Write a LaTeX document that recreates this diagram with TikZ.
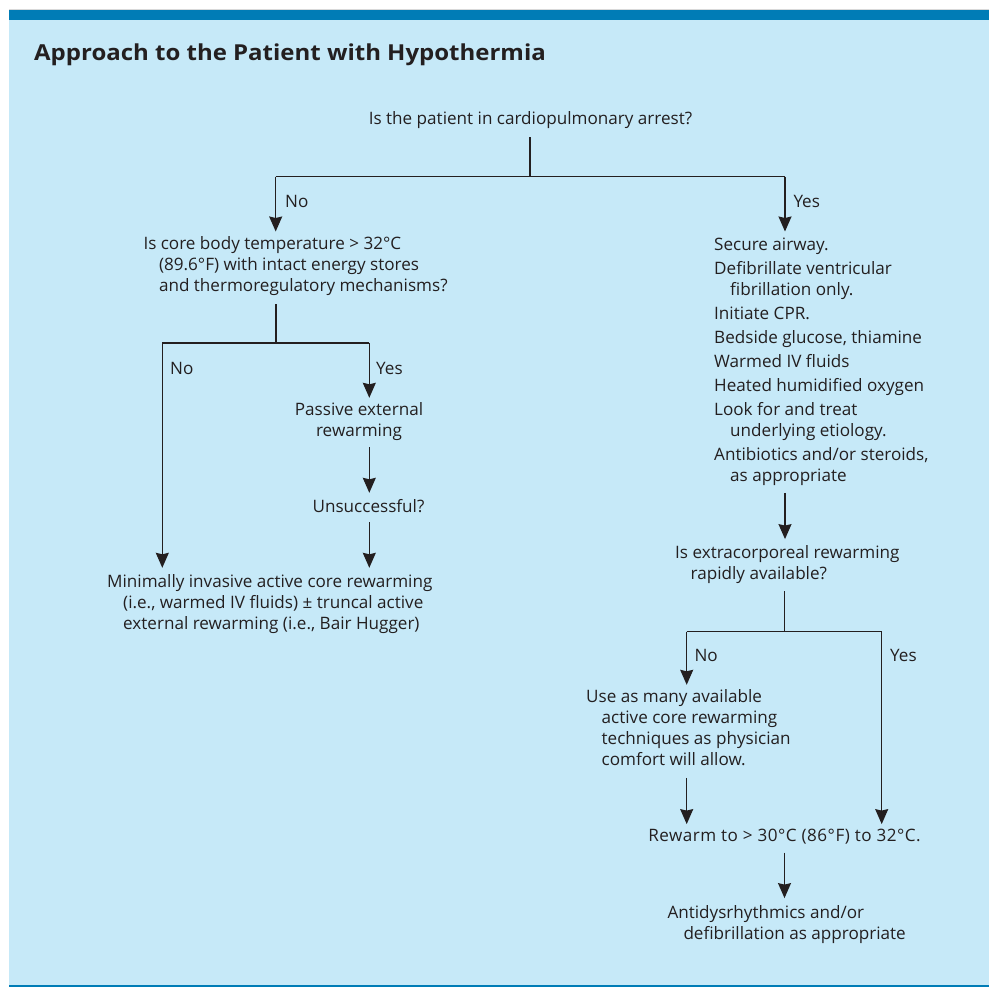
\documentclass[tikz,border=0pt]{standalone}
\usepackage{fontspec}
\setmainfont{Open Sans}
\newfontfamily\titlefam{Open Sans}[FakeStretch=1.09]
\usetikzlibrary{arrows.meta}
\definecolor{bgblue}{HTML}{C6E9F8}
\definecolor{band}{HTML}{007CB6}
\definecolor{ink}{HTML}{231F20}
\newcommand{\lblock}[1]{\begin{tabular}[t]{@{}l@{}}#1\end{tabular}}
\newcommand{\cblock}[1]{\begin{tabular}[t]{@{}c@{}}#1\end{tabular}}
\newcommand{\ind}{\hspace*{15.5pt}}
\begin{document}
\begin{tikzpicture}[x=1pt,y=-1pt,
  txt/.style={inner sep=0pt, text=ink, font=\fontsize{17.1}{21}\selectfont, text height=12.3pt},
  one/.style={txt, text depth=0pt},
  lbl/.style={one, anchor=base west},
  line/.style={draw=ink, line width=1.3pt},
  arr/.style={line, -{Stealth[length=15pt,width=13pt,inset=1.5pt]}},
  titlefont/.style={inner sep=0pt, text=ink, font=\titlefam\fontsize{22}{26}\selectfont\bfseries}]
\useasboundingbox (0,0) rectangle (989,987);
% frame
\fill[bgblue] (9,20) rectangle (989,985);
\fill[band] (9,10) rectangle (989,20);
\fill[band] (9,985) rectangle (989,987);
\draw[black!15, line width=0.8pt] (9,9.4) -- (989,9.4);
% title
\node[titlefont, anchor=base west] (title) at (34,60.7) {Approach to the Patient with Hypothermia};
% nodes
\node[one, anchor=base] (q1) at (530.5,125) {Is the patient in cardiopulmonary arrest?};
\node[txt, anchor=base west] (q2) at (143.3,250) {\lblock{Is core body temperature > 32°C\\ \ind(89.6°F) with intact energy stores\\ \ind and thermoregulatory mechanisms?}};
\node[txt, anchor=base west] (list) at (714,251) {\lblock{Secure airway.\\[3pt] Defibrillate ventricular\\ \hspace*{16pt}fibrillation only.\\[3pt] Initiate CPR.\\[3pt] Bedside glucose, thiamine\\[3pt] Warmed IV fluids\\[3pt] Heated humidified oxygen\\[3pt] Look for and treat\\ \hspace*{16pt}underlying etiology.\\[3pt] Antibiotics and/or steroids,\\ \hspace*{16pt}as appropriate}};
\node[txt, anchor=base] (pass) at (359,415) {\cblock{Passive external\\ rewarming}};
\node[one, anchor=base] (unsucc) at (368.5,512) {Unsuccessful?};
\node[txt, anchor=base west] (minimal) at (107,587) {\lblock{Minimally invasive active core rewarming\\ \hspace*{16pt}(i.e., warmed IV fluids) ± truncal active\\ \hspace*{16pt}external rewarming (i.e., Bair Hugger)}};
\node[txt, anchor=base west] (extra) at (675,558.3) {\lblock{Is extracorporeal rewarming\\ \ind rapidly available?}};
\node[txt, anchor=base west] (usemany) at (586,702.7) {\lblock{Use as many available\\ \ind active core rewarming\\ \ind techniques as physician\\ \ind comfort will allow.}};
\node[one, anchor=base] (rewarm) at (784.5,841.7) {\addfontfeature{LetterSpace=2.8}Rewarm to > 30°C (86°F) to 32°C.};
\node[txt, anchor=base west] (antid) at (667.3,918.3) {\lblock{Antidysrhythmics and/or\\ \hspace*{16pt}defibrillation as appropriate}};
% labels
\node[lbl] (no1) at (285,207.7) {No};
\node[lbl] (yes1) at (793.3,207.5) {Yes};
\node[lbl] (no2) at (170,374) {No};
\node[lbl] (yes2) at (376,374) {Yes};
\node[lbl] (no3) at (694.3,661.7) {No};
\node[lbl] (yes3) at (890,661.7) {Yes};
% junction coordinates
\coordinate (j1) at (530,176.7);
\coordinate (jL) at (275.7,176.7);
\coordinate (jR) at (785,176.7);
\coordinate (jA) at (276,343);
\coordinate (jAL) at (162.3,343);
\coordinate (jAR) at (369.3,343);
\coordinate (jB) at (784.5,631.7);
\coordinate (jBL) at (686.7,631.7);
\coordinate (jBR) at (881.7,631.7);
% connectors
\draw[line, shorten <=12.3pt] (q1.south -| j1) -- (j1);
\draw[line] (jL) -- (jR);
\draw[arr, shorten >=6pt] (jL) -- (jL |- q2.north);
\draw[arr, shorten >=7pt] (jR) -- (jR |- list.north);
\draw[line, shorten <=5.7pt] (jA |- q2.south) -- (jA);
\draw[line] (jAL) -- (jAR);
\draw[arr, shorten >=6.7pt] (jAL) -- (jAL |- minimal.north);
\draw[arr, shorten >=4.7pt] (jAR) -- (jAR |- pass.north);
\draw[arr, shorten <=4.7pt, shorten >=6.7pt] (jAR |- pass.south) -- (jAR |- unsucc.north);
\draw[arr, shorten <=10pt, shorten >=6.7pt] (jAR |- unsucc.south) -- (jAR |- minimal.north);
\draw[arr, shorten <=4.4pt, shorten >=6.7pt] (jR |- list.south) -- (jR |- extra.north);
\draw[line, shorten <=5.4pt] (jB |- extra.south) -- (jB);
\draw[line] (jBL) -- (jBR);
\draw[arr, shorten >=5.4pt] (jBL) -- (jBL |- usemany.north);
\draw[arr, shorten >=5.1pt] (jBR) -- (jBR |- rewarm.north);
\draw[arr, shorten <=5.7pt, shorten >=5.1pt] (jBL |- usemany.south) -- (jBL |- rewarm.north);
\draw[arr, shorten <=10.6pt, shorten >=7.7pt] (jB |- rewarm.south) -- (jB |- antid.north);
\end{tikzpicture}
\end{document}
